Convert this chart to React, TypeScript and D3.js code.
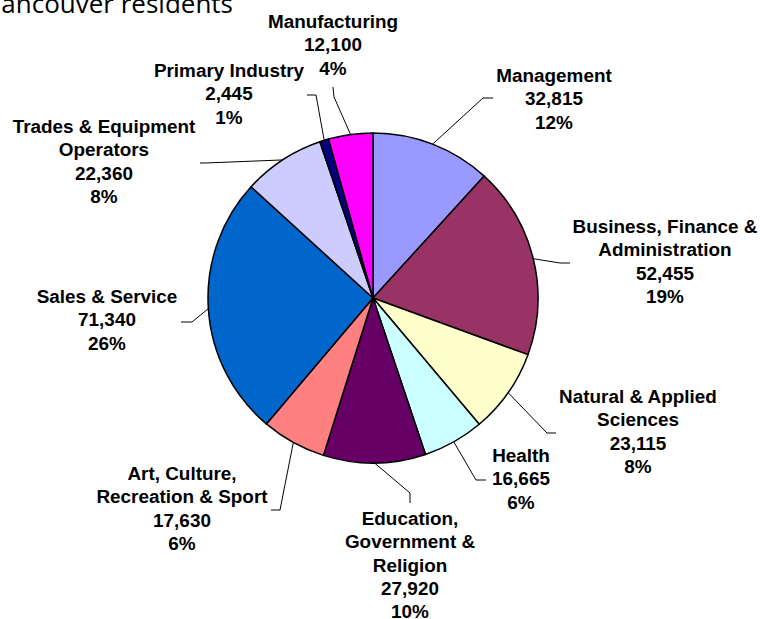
import React from "react";
import * as d3 from "d3";

const categories = [
  "Management",
  "Business, Finance &\nAdministration",
  "Natural & Applied\nSciences",
  "Health",
  "Education,\nGovernment &\nReligion",
  "Art, Culture,\nRecreation & Sport",
  "Sales & Service",
  "Trades & Equipment\nOperators",
  "Primary Industry",
  "Manufacturing",
];
const values = [32815, 52455, 23115, 16665, 27920, 17630, 71340, 22360, 2445, 12100];
const colors = [
  "#9999FF", "#993366", "#FFFFCC", "#CCFFFF", "#660066",
  "#FF8080", "#0066CC", "#CCCCFF", "#000080", "#FF00FF",
];
const titleText = "Vancouver residents";

// label layout: label center x, first baseline y, elbow point, end point of leader
const labelLayout = [
  { cx: 554, by: 82, elbow: [483, 98], end: [493, 98] },
  { cx: 665, by: 233, elbow: [560, 263], end: [570, 263] },
  { cx: 638, by: 403, elbow: [547, 433], end: [556, 433] },
  { cx: 521, by: 462, elbow: [476, 480], end: [486, 480] },
  { cx: 410, by: 525, elbow: [410, 493], end: [410, 503] },
  { cx: 182, by: 480, elbow: [280, 510], end: [271, 510] },
  { cx: 107, by: 303, elbow: [192, 322], end: [181, 322] },
  { cx: 104, by: 133, elbow: [205, 163], end: [200, 163] },
  { cx: 229, by: 77, elbow: [316, 95], end: [307, 95] },
  { cx: 333, by: 28, elbow: [334, 97], end: [333, 87] },
];

const W = 760;
const H = 619;
const CX = 373;
const CY = 298;
const R = 165;
const LINE_H = 23.3;

export default function App() {
  const total = d3.sum(values);
  const data = values.map((v, i) => ({ v, i }));
  const pie = d3.pie<any>().value((d: any) => d.v).sort(null);
  const arcs = pie(data);
  const arc = d3.arc<any>().innerRadius(0).outerRadius(R);
  const fmt = d3.format(",");

  return (
    <svg
      width={W}
      height={H}
      style={{ position: "absolute", left: 0, top: 0, background: "#fff" }}
    >
      <text
        x={233}
        y={13}
        textAnchor="end"
        fontFamily="'Open Sans', sans-serif"
        fontSize={26}
        fill="#000"
      >
        {titleText}
      </text>
      <g transform={`translate(${CX},${CY})`}>
        {arcs.map((a: any, k: number) => (
          <path
            key={k}
            d={arc(a) as string}
            fill={colors[k]}
            stroke="#000"
            strokeWidth={1.5}
            strokeLinejoin="round"
          />
        ))}
      </g>
      {arcs.map((a: any, k: number) => {
        const mid = (a.startAngle + a.endAngle) / 2;
        const sx = CX + R * Math.sin(mid);
        const sy = CY - R * Math.cos(mid);
        const L = labelLayout[k];
        const pts = `${sx},${sy} ${L.elbow[0]},${L.elbow[1]} ${L.end[0]},${L.end[1]}`;
        const lines = [
          ...categories[k].split("\n"),
          fmt(values[k]),
          Math.round((values[k] / total) * 100) + "%",
        ];
        return (
          <g key={"l" + k}>
            <polyline points={pts} fill="none" stroke="#000" strokeWidth={1} />
            <text
              textAnchor="middle"
              fontFamily="'Liberation Sans', Arial, sans-serif"
              fontWeight="bold"
              fontSize={18.9}
              fill="#000"
            >
              {lines.map((t, j) => (
                <tspan key={j} x={L.cx} y={L.by + j * LINE_H}>
                  {t}
                </tspan>
              ))}
            </text>
          </g>
        );
      })}
    </svg>
  );
}
